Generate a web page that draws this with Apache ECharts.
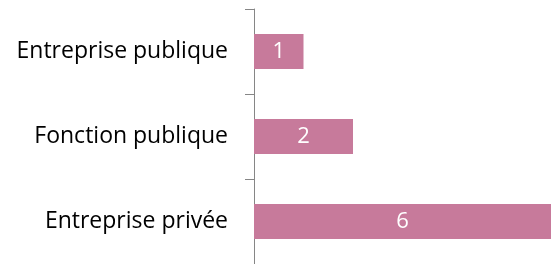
<!DOCTYPE html>
<html>
<head>
<meta charset="utf-8">
<script src="https://cdn.jsdelivr.net/npm/echarts@6/dist/echarts.min.js"></script>
<style>
  html, body { margin: 0; padding: 0; background: #fff; }
  #chart { width: 551px; height: 264px; }
</style>
</head>
<body>
<div id="chart"></div>
<script>
var categories = ['Entreprise privée', 'Fonction publique', 'Entreprise publique'];
var values = [6, 2, 1];

var myChart = echarts.init(document.getElementById('chart'));
var option = {
    animation: false,
    grid: {
        left: 254,
        right: -11,
        top: 9,
        bottom: 0
    },
    xAxis: {
        type: 'value',
        min: 0,
        max: 6,
        show: false
    },
    yAxis: {
        type: 'category',
        data: categories,
        axisLine: {
            show: true,
            lineStyle: { color: '#868686', width: 1 }
        },
        axisTick: {
            show: true,
            length: 9,
            lineStyle: { color: '#868686' }
        },
        axisLabel: {
            margin: 26,
            color: '#000',
            fontFamily: 'Open Sans',
            fontSize: 23
        }
    },
    series: [
        {
            type: 'bar',
            data: values,
            barWidth: 35,
            itemStyle: {
                color: '#c77a9b'
            },
            label: {
                show: true,
                position: 'inside',
                color: '#fff',
                fontFamily: 'Open Sans',
                fontSize: 22
            }
        }
    ]
};
myChart.setOption(option);
</script>
</body>
</html>
